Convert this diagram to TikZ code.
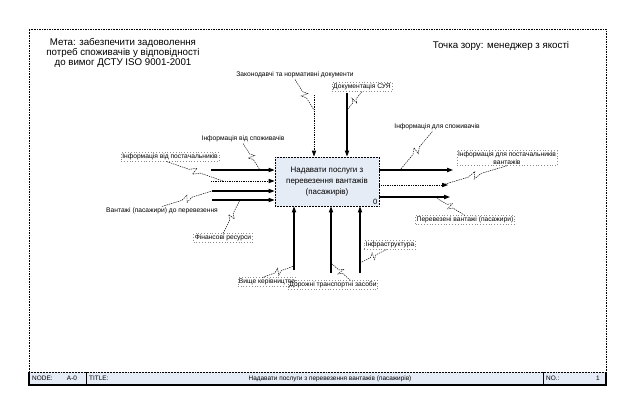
\documentclass[tikz,border=0pt]{standalone}
\usepackage{fontspec}
\setmainfont{Liberation Sans}
\usetikzlibrary{arrows.meta,positioning,calc}
\definecolor{boxfill}{HTML}{E6ECF6}
\definecolor{lblgray}{HTML}{8C8C8C}
\tikzset{
  flow/.style={-{Triangle[length=5pt,width=3.6pt]},line width=0.9pt},
  dflow/.style={flow,line width=0.7pt,dash pattern=on 0.7pt off 0.8pt},
  squig/.style={line width=0.4pt,dash pattern=on 1.2pt off 0.8pt},
  lbl/.style={font=\fontsize{5.7}{6.6}\selectfont,inner sep=1pt,align=center},
  lblbox/.style={lbl,draw=lblgray,dotted,line width=0.4pt},
  func/.style={rectangle,draw,dash pattern=on 0.7pt off 0.6pt,line width=0.8pt,
    fill=boxfill,minimum width=3.12cm,minimum height=1.47cm,align=center,
    font=\fontsize{6.8}{9.2}\selectfont},
}
% label-to-arrow squiggle
\newcommand{\idefsquig}[2]{%
  \path #1 coordinate (sqA);
  \path #2 coordinate (sqB);
  \draw[squig] (sqA) -- ($(sqA)!0.4!(sqB)$)
    -- ($(sqA)!0.52!(sqB)!3pt!90:(sqB)$)
    -- ($(sqA)!0.48!(sqB)!3pt!-90:(sqB)$)
    -- ($(sqA)!0.6!(sqB)$) -- (sqB);}

\begin{document}
\begin{tikzpicture}[x=0.03cm,y=-0.03cm,
  ftxt/.style={font=\fontsize{5.5}{6}\selectfont,inner sep=0pt},
  note/.style={font=\fontsize{8.3}{8.7}\selectfont,align=center},
]
\useasboundingbox[fill=white] (0,0) rectangle (636,415);

% frame and footer
\fill[boxfill] (29,372) rectangle (606,385);
\draw[line width=0.7pt,dash pattern=on 0.7pt off 0.7pt] (29,385) -- (29,29) -- (606,29) -- (606,385);
\draw[line width=0.6pt,dash pattern=on 0.6pt off 0.7pt] (29,372) -- (606,372);
\draw[line width=1pt] (29,372) -- (29,385) -- (606,385) -- (606,372);
\draw[line width=0.8pt] (86,372) -- (86,385) (543,372) -- (543,385);
\node[ftxt,anchor=west] (ftnode) at (32,378.5) {NODE:};
\node[ftxt] (ftnum) at (72,378.5) {A-0};
\node[ftxt,anchor=west] (fttitle) at (89,378.5) {TITLE:};
\node[ftxt] (ftname) at (330,378.5) {Надавати послуги з перевезення вантажів (пасажирів)};
\node[ftxt,anchor=west] (ftno) at (546,378.5) {NO.:};
\node[ftxt] (ftpage) at (598,378.5) {1};

% goal and viewpoint
\node[note] (goal) at (123,53) {Мета: забезпечити задоволення\\потреб споживачів у відповідності\\до вимог ДСТУ ISO 9001-2001};
\node[note] (view) at (501,46) {Точка зору: менеджер з якості};

% FUNCTION
\node[func] (box) at (327,181.5) {Надавати послуги з\\перевезення вантажів\\(пасажирів)};
\node[font=\fontsize{6.5}{7}\selectfont,anchor=south east,inner sep=1.5pt] (boxno) at (box.south east) {0};

% INPUTS
\coordinate (i1) at (211,170);
\coordinate (i2) at (211,181);
\coordinate (i3) at (212,191);
\coordinate (i4) at (212,200);
\draw[flow]  (i1) -- (i1 -| box.west);
\draw[dflow] (i2) -- (i2 -| box.west);
\draw[flow]  (i3) -- (i3 -| box.west);
\draw[flow]  (i4) -- (i4 -| box.west);
\node[lbl]    (lI1) at (243,139) {Інформація від споживачів};
\node[lblbox] (lI2) at (170,157) {Інформація від постачальників};
\node[lbl]    (lI3) at (162,211) {Вантажі (пасажири) до перевезення};
\node[lblbox] (lI4) at (223,238) {Фінансові ресурси};
\coordinate (i1s) at (260,170);
\coordinate (i2s) at (223,181);
\coordinate (i4s) at (240,200);
\idefsquig{(lI1.south)}{(i1s)}
\idefsquig{([xshift=-3]lI2.south)}{(i2s)}
\idefsquig{(lI3.north)}{(i3)}
\idefsquig{(lI4.north)}{(i4s)}

% OUTPUTS
\coordinate (o1) at (453,170);
\coordinate (o2) at (448,185);
\coordinate (o3) at (450,197);
\draw[flow]  (o1 -| box.east) -- (o1);
\draw[dflow] (o2 -| box.east) -- (o2);
\draw[flow]  (o3 -| box.east) -- (o3);
\node[lbl]    (lO1) at (437,127) {Інформація для споживачів};
\node[lblbox] (lO2) at (507,158) {Інформація для постачальників\\вантажів};
\node[lblbox] (lO3) at (465,220) {Перевезені вантажі (пасажири)};
\coordinate (o1s) at (400,170);
\coordinate (o2s) at (442,185);
\coordinate (o3s) at (435,197);
\idefsquig{([xshift=-4]lO1.south)}{(o1s)}
\idefsquig{(lO2.south)}{(o2s)}
\idefsquig{(lO3.north)}{(o3s)}

% CONTROLS
\coordinate (c1) at (314,95);
\coordinate (c2) at (347,93);
\draw[dflow] (c1) -- (c1 |- box.north);
\draw[flow]  (c2) -- (c2 |- box.north);
\node[lbl]    (lC1) at (295,75) {Законодавчі та нормативні документи};
\node[lblbox] (lC2) at (362,87) {Документація СУЯ};
\coordinate (c1s) at (314,110);
\coordinate (c2s) at (347,110);
\idefsquig{(lC1.south)}{(c1s)}
\idefsquig{(lC2.south)}{(c2s)}

% MECHANISMS
\coordinate (m1) at (294,270);
\coordinate (m2) at (331,273);
\coordinate (m3) at (360,273);
\draw[flow] (m1) -- (m1 |- box.south);
\draw[flow] (m2) -- (m2 |- box.south);
\draw[flow] (m3) -- (m3 |- box.south);
\node[lblbox] (lM1) at (267,282) {Вище керівництво};
\node[lblbox] (lM2) at (333,285) {Дорожні транспортні засоби};
\node[lblbox] (lM3) at (390,245) {Інфраструктура};
\coordinate (m1s) at (294,266);
\coordinate (m2s) at (331,263);
\coordinate (m3s) at (360,263);
\idefsquig{([xshift=-4]lM1.north)}{(m1s)}
\idefsquig{([xshift=15]lM2.north)}{(m2s)}
\idefsquig{([xshift=-3]lM3.south)}{(m3s)}
\end{tikzpicture}
\end{document}
